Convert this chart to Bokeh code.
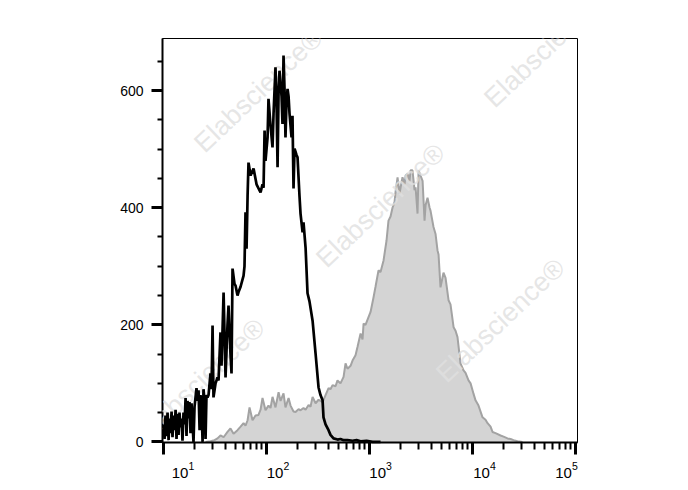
import numpy as np
from bokeh.plotting import figure
from bokeh.models import Range1d, FixedTicker, Label, LogAxis, CustomJSTickFormatter
from bokeh.embed import file_html
from bokeh.resources import INLINE

# ---- data: log10 fluorescence intensity and event counts ----
black_log = [1.000, 1.010, 1.019, 1.029, 1.039, 1.049, 1.058, 1.068, 1.078, 1.087,
             1.097, 1.107, 1.117, 1.126, 1.136, 1.146, 1.155, 1.165, 1.175, 1.184,
             1.194, 1.204, 1.214, 1.223, 1.233, 1.243, 1.252, 1.262, 1.272, 1.282,
             1.291, 1.301, 1.320, 1.330, 1.340, 1.350, 1.359, 1.369, 1.379, 1.388,
             1.398, 1.408, 1.417, 1.427, 1.437, 1.456, 1.466, 1.476, 1.485, 1.505,
             1.524, 1.534, 1.553, 1.563, 1.583, 1.602, 1.621, 1.631, 1.650, 1.660,
             1.670, 1.689, 1.699, 1.718, 1.728, 1.748, 1.777, 1.786, 1.796, 1.806,
             1.816, 1.825, 1.845, 1.874, 1.903, 1.942, 1.961, 1.971, 1.981, 1.990,
             2.010, 2.019, 2.039, 2.058, 2.068, 2.087, 2.097, 2.107, 2.117, 2.126,
             2.146, 2.155, 2.165, 2.175, 2.184, 2.194, 2.204, 2.214, 2.223, 2.233,
             2.243, 2.252, 2.262, 2.272, 2.291, 2.301, 2.320, 2.330, 2.350, 2.359,
             2.379, 2.398, 2.417, 2.447, 2.476, 2.505, 2.524, 2.544, 2.553, 2.573,
             2.602, 2.621, 2.650, 2.689, 2.718, 2.748, 2.786, 2.835, 2.874, 2.913,
             2.971, 3.029, 3.107]
black_count = [30, 5, 45, 10, 50, 3, 40, 15, 52, 8,
               45, 20, 55, 5, 48, 12, 50, 25, 40, 2,
               50, 30, 75, 10, 70, 40, 68, 15, 66, 30,
               0, 60, 92, 70, 88, 20, 80, 60, 0, 90,
               70, 5, 80, 76, 80, 117, 90, 199, 76, 100,
               110, 105, 187, 130, 255, 110, 200, 233, 150, 117,
               296, 270, 267, 250, 256, 265, 284, 300, 392, 330,
               420, 477, 455, 467, 440, 426, 440, 434, 532, 480,
               520, 586, 540, 503, 560, 640, 580, 469, 600, 634,
               590, 543, 660, 600, 520, 580, 603, 590, 561, 540,
               520, 557, 433, 501, 490, 486, 420, 390, 358, 375,
               332, 254, 240, 207, 151, 93, 80, 71, 42, 30,
               20, 12, 6, 4, 5, 3, 3, 2, 3, 1,
               2, 0, 0]

grey_log = [1.408, 1.456, 1.495, 1.524, 1.553, 1.583, 1.621, 1.650, 1.680, 1.718,
            1.748, 1.777, 1.796, 1.816, 1.835, 1.864, 1.893, 1.922, 1.942, 1.961,
            1.990, 2.019, 2.039, 2.058, 2.087, 2.117, 2.136, 2.165, 2.184, 2.214,
            2.233, 2.262, 2.282, 2.311, 2.330, 2.359, 2.379, 2.408, 2.427, 2.447,
            2.476, 2.505, 2.524, 2.544, 2.573, 2.602, 2.621, 2.641, 2.670, 2.689,
            2.718, 2.748, 2.767, 2.786, 2.816, 2.835, 2.864, 2.883, 2.913, 2.932,
            2.942, 2.961, 2.990, 3.010, 3.039, 3.058, 3.087, 3.107, 3.136, 3.165,
            3.184, 3.204, 3.223, 3.243, 3.252, 3.272, 3.291, 3.301, 3.320, 3.340,
            3.350, 3.369, 3.388, 3.398, 3.417, 3.437, 3.447, 3.466, 3.476, 3.495,
            3.515, 3.534, 3.544, 3.563, 3.583, 3.592, 3.621, 3.641, 3.660, 3.670,
            3.689, 3.718, 3.738, 3.767, 3.786, 3.816, 3.835, 3.854, 3.883, 3.913,
            3.932, 3.961, 3.981, 4.010, 4.029, 4.058, 4.097, 4.126, 4.146, 4.175,
            4.194, 4.223, 4.272, 4.301, 4.340, 4.369, 4.398, 4.437, 4.485]
grey_count = [0, 1, 3, 6, 11, 8, 17, 23, 14, 20,
              26, 32, 28, 37, 59, 37, 45, 46, 55, 75,
              54, 62, 58, 77, 59, 85, 70, 83, 59, 75,
              62, 52, 51, 56, 54, 58, 55, 63, 60, 77,
              66, 72, 70, 68, 80, 92, 90, 97, 95, 105,
              100, 111, 134, 125, 130, 139, 148, 162, 185, 175,
              202, 200, 213, 222, 247, 265, 293, 290, 310, 344,
              378, 385, 400, 410, 426, 452, 424, 434, 452, 440,
              455, 458, 445, 464, 464, 430, 435, 390, 464, 455,
              446, 378, 404, 417, 400, 395, 367, 355, 327, 320,
              264, 289, 280, 242, 235, 196, 190, 179, 134, 122,
              118, 105, 100, 82, 71, 62, 42, 38, 32, 26,
              17, 15, 11, 9, 6, 5, 3, 1, 0]

y_ticks = [0, 200, 400, 600]
x_decades = [1, 2, 3, 4, 5]
watermark_text = "Elabscience\u00ae"

# ---- figure ----
X0, X1 = 0.990, 5.019
p = figure(width=688, height=490, x_axis_type="log",
           x_range=Range1d(10 ** X0, 10 ** X1), y_range=Range1d(-1, 689),
           output_backend="svg", toolbar_location=None,
           min_border_left=162, min_border_right=111,
           min_border_top=38, min_border_bottom=48)
p.grid.visible = False
p.background_fill_color = "white"
p.border_fill_color = "white"
p.outline_line_color = "black"
p.outline_line_width = 1

bx = [10 ** v for v in black_log]
gx = [10 ** v for v in grey_log]

p.varea(x=gx, y1=[0] * len(gx), y2=grey_count, fill_color="#d4d4d4")
p.line(gx, grey_count, line_color="#a3a3a3", line_width=2)

# watermarks (decorative), centres given in page pixels; only those that reach the plot area
wm_centers = [(258, 90), (380, 205), (500, 320), (620, 435), (200, 380), (548, 45)]
for (cx, cy) in wm_centers:
    p.add_layout(Label(x=cx - 162, y=442 - cy, x_units="screen", y_units="screen",
                       text=watermark_text, angle=0.76, text_align="center",
                       text_baseline="middle", text_font="Liberation Sans",
                       text_font_size="27px", text_color="#e0e0e0", text_alpha=0.8))

bl = p.line(bx, black_count, line_color="black", line_width=2.7)
bl.level = "overlay"

# y axis
ya = p.yaxis[0]
ya.ticker = FixedTicker(ticks=y_ticks, minor_ticks=[v for v in range(50, 700, 50)])
ya.axis_line_width = 2
ya.major_tick_out = 11
ya.major_tick_in = 0
ya.major_tick_line_width = 3
ya.minor_tick_out = 5
ya.minor_tick_in = 0
ya.minor_tick_line_width = 2
ya.major_label_text_font = "Liberation Sans"
ya.major_label_text_font_size = "14px"
ya.major_label_text_color = "black"
ya.major_label_standoff = 8

# x axis (ticks only)
xa = p.xaxis[0]
minor = [m * 10 ** d for d in range(1, 5) for m in range(2, 10)]
xa.ticker = FixedTicker(ticks=[10 ** d for d in x_decades], minor_ticks=minor)
xa.axis_line_width = 2
xa.major_tick_out = 12
xa.major_tick_in = 0
xa.major_tick_line_width = 3
xa.minor_tick_out = 7
xa.minor_tick_in = 0
xa.minor_tick_line_width = 2
xa.formatter = CustomJSTickFormatter(code="return ''")
xa.major_label_standoff = 0

# x tick labels (10^n): a label-only log axis; each label sits a little off its tick
# as in the reference, and the log formatter rounds the exponent to n.
label_shift = [0.189, 0.111, 0.107, 0.116, -0.088]
la = LogAxis(ticker=FixedTicker(ticks=[10 ** (d + s) for d, s in zip(x_decades, label_shift)]))
la.axis_line_color = None
la.major_tick_line_color = None
la.minor_tick_line_color = None
la.major_tick_out = 0
la.major_tick_in = 0
la.minor_tick_out = 0
la.minor_tick_in = 0
la.major_label_standoff = 7
la.major_label_text_font = "Liberation Sans"
la.major_label_text_font_size = "15px"
la.major_label_text_color = "black"
p.add_layout(la, "below")

open("out.html", "w").write(file_html(p, INLINE))
